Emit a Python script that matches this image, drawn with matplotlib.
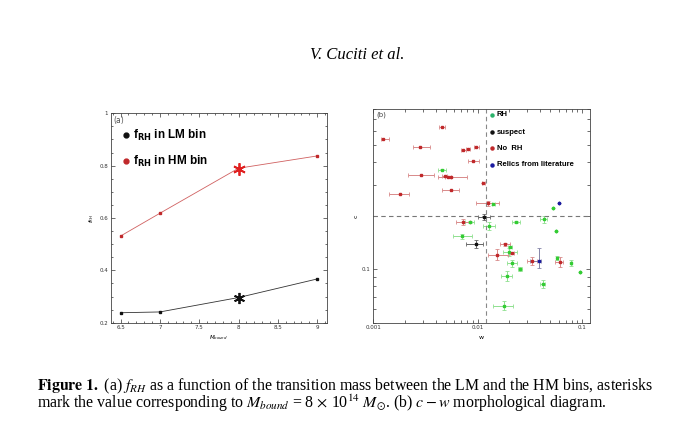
import numpy as np
import matplotlib
matplotlib.use("Agg")
import matplotlib.pyplot as plt
from matplotlib.ticker import AutoMinorLocator, FixedLocator, NullFormatter, LogLocator

# panel (a): f_RH vs transition mass
m_bound = [6.5, 7.0, 8.0, 9.0]
f_lm = [0.238, 0.241, 0.296, 0.367]
f_hm = [0.531, 0.618, 0.790, 0.837]
star_x = 8.0
star_lm = 0.295
star_hm = 0.787

# panel (b): c - w diagram (value, minus err, plus err)
rh_w = [0.00456, 0.01416, 0.0528, 0.0430, 0.00843, 0.0234, 0.01285, 0.0561, 0.00715, 0.0205,
        0.0202, 0.0578, 0.0216, 0.0794, 0.0256, 0.0970, 0.0190, 0.0421, 0.0180]
rh_c = [0.364, 0.233, 0.221, 0.191, 0.184, 0.184, 0.175, 0.165, 0.1535, 0.1337,
        0.1259, 0.1164, 0.108, 0.1086, 0.1004, 0.097, 0.0921, 0.0826, 0.0624]
rh_w_lo = [0.0004, 0.0005, 0, 0.003, 0.0009, 0.0021, 0.0015, 0, 0.0013, 0.0008,
           0.0025, 0.0012, 0.0024, 0.001, 0.0009, 0, 0.0022, 0.0025, 0.0038]
rh_w_hi = [0.00045, 0.0005, 0, 0.003, 0.0009, 0.0021, 0.0019, 0, 0.0017, 0.0008,
           0.0036, 0.0012, 0.0024, 0.001, 0.0009, 0, 0.0022, 0.0025, 0.0041]
rh_c_lo = [0.003, 0.003, 0, 0.008, 0.002, 0.002, 0.0095, 0, 0.0045, 0.002,
           0.0067, 0.003, 0.005, 0.004, 0.002, 0, 0.006, 0.004, 0.0038]
rh_c_hi = [0.003, 0.003, 0, 0.008, 0.002, 0.002, 0.0095, 0, 0.0045, 0.002,
           0.0067, 0.003, 0.005, 0.004, 0.002, 0, 0.006, 0.004, 0.0038]

no_w = [0.00456, 0.00125, 0.00278, 0.00728, 0.00813, 0.00977, 0.00908, 0.00284, 0.00484, 0.00521,
        0.00561, 0.0114, 0.00554, 0.00181, 0.01248, 0.00728, 0.01837, 0.01549, 0.0214, 0.0332, 0.0618]
no_c = [0.631, 0.541, 0.491, 0.467, 0.474, 0.487, 0.407, 0.341, 0.335, 0.333,
        0.333, 0.306, 0.279, 0.265, 0.235, 0.185, 0.138, 0.1205, 0.123, 0.111, 0.1105]
no_w_lo = [0.0003, 0.00006, 0.0004, 0.0004, 0.0004, 0.0005, 0.00095, 0.0007, 0.0003, 0.0003,
           0.0014, 0.0003, 0.00095, 0.00038, 0.0028, 0.001, 0.002, 0.0028, 0.001, 0.0035, 0.006]
no_w_hi = [0.00035, 0.00016, 0.0007, 0.0004, 0.0004, 0.0005, 0.0012, 0.001, 0.0003, 0.0003,
           0.0024, 0.0003, 0.0011, 0.00041, 0.0037, 0.0011, 0.002, 0.0043, 0.001, 0.0039, 0.005]
no_c_lo = [0, 0, 0, 0, 0, 0, 0, 0, 0, 0,
           0, 0, 0, 0, 0.008, 0.007, 0.003, 0.008, 0, 0.0055, 0.007]
no_c_hi = [0, 0, 0, 0, 0, 0, 0, 0, 0, 0,
           0, 0, 0, 0, 0.008, 0.006, 0.003, 0.009, 0, 0.0055, 0.007]

sus_w = [0.0116, 0.00964]
sus_c = [0.197, 0.139]
sus_w_lo = [0.0015, 0.0018]
sus_w_hi = [0.0016, 0.0017]
sus_c_lo = [0.0075, 0.0068]
sus_c_hi = [0.0075, 0.0068]

rel_w = [0.0610, 0.0385]
rel_c = [0.236, 0.1115]
rel_w_lo = [0, 0.0065]
rel_w_hi = [0, 0.0023]
rel_c_lo = [0, 0.0093]
rel_c_hi = [0, 0.021]

w_cut = 0.012
c_cut = 0.2

caption = (r"$\mathbf{Figure\ 1.}$ (a) $f_{RH}$ as a function of the transition mass between the LM and the HM bins, asterisks" "\n"
           r"mark the value corresponding to $M_{bound}$ = 8 $\times$ 10$^{14}$ $M_{\odot}$. (b) $c - w$ morphological diagram.")

fig = plt.figure(figsize=(6.95, 4.36), dpi=100)

tick_kw = dict(direction="in", top=True, right=True, labelsize=4, width=0.5, colors="#333333", pad=2)


def style_axes(ax):
    for s in ax.spines.values():
        s.set_linewidth(0.6)
        s.set_color("#444444")
    ax.tick_params(which="major", length=3, **tick_kw)
    ax.tick_params(which="minor", length=1.5, **tick_kw)


# ---- panel (a)
ax1 = fig.add_axes([0.1593, 0.2599, 0.3112, 0.4803])
ax1.plot(m_bound, f_hm, "-s", color="#d06060", mfc="#c0282a", mec="#c0282a", lw=0.6, ms=1.6)
ax1.plot(m_bound, f_lm, "-s", color="#333333", mfc="#111111", mec="#111111", lw=0.6, ms=1.6)
ax1.plot([star_x], [star_hm], marker=(6, 2, 0), color="#e02020", ms=9, mew=1.3)
ax1.plot([star_x], [star_lm], marker=(6, 2, 0), color="#111111", ms=8, mew=1.3)
ax1.set_xlim(6.375, 9.125)
ax1.set_ylim(0.2, 1.0)
ax1.set_xticks([6.5, 7, 7.5, 8, 8.5, 9])
ax1.set_xticklabels(["6.5", "7", "7.5", "8", "8.5", "9"])
ax1.set_yticks([0.2, 0.4, 0.6, 0.8, 1.0])
ax1.set_yticklabels(["0.2", "0.4", "0.6", "0.8", "1"])
ax1.xaxis.set_minor_locator(AutoMinorLocator(5))
ax1.yaxis.set_minor_locator(AutoMinorLocator(4))
style_axes(ax1)
ax1.set_xlabel(r"$M_{bound}$", fontsize=4, labelpad=2)
ax1.set_ylabel(r"$f_{RH}$", fontsize=4, labelpad=2.5)
ax1.text(0.012, 0.955, "(a)", transform=ax1.transAxes, fontsize=5.5, color="#555555")

leg_a = [("#111111", r"f$_{\mathbf{RH}}$ in LM bin", 0.896), ("#c0282a", r"f$_{\mathbf{RH}}$ in HM bin", 0.772)]
for col, lab, yy in leg_a:
    ax1.plot([0.0707], [yy], "o", color=col, ms=3.5, transform=ax1.transAxes)
    ax1.text(0.1017, yy, lab, transform=ax1.transAxes, fontsize=8.5, fontweight="bold",
             family="Liberation Sans", math_fontfamily="dejavusans", va="center")

# ---- panel (b)
ax2 = fig.add_axes([0.5371, 0.2599, 0.3118, 0.4901])
ax2.set_xscale("log")
ax2.set_yscale("log")
groups = [
    (rh_w, rh_c, rh_w_lo, rh_w_hi, rh_c_lo, rh_c_hi, "#33cc33", "#8fe08f"),
    (no_w, no_c, no_w_lo, no_w_hi, no_c_lo, no_c_hi, "#c0282a", "#d88a8a"),
    (sus_w, sus_c, sus_w_lo, sus_w_hi, sus_c_lo, sus_c_hi, "#111111", "#666666"),
    (rel_w, rel_c, rel_w_lo, rel_w_hi, rel_c_lo, rel_c_hi, "#1a1aa0", "#8585a8"),
]
for w, c, wlo, whi, clo, chi, col, ecol in groups:
    ax2.errorbar(w, c, xerr=[wlo, whi], yerr=[clo, chi], fmt="s", ms=2, color=col,
                 ecolor=ecol, elinewidth=0.7, capsize=1.2, capthick=0.6)
ax2.axhline(c_cut, color="#777777", ls=(0, (4, 3)), lw=0.8)
ax2.axvline(w_cut, color="#888888", ls=(0, (4, 3)), lw=0.8)
ax2.set_xlim(0.001, 0.12)
ax2.set_ylim(0.05, 0.8)
ax2.xaxis.set_major_locator(FixedLocator([0.001, 0.01, 0.1]))
ax2.set_xticklabels(["0.001", "0.01", "0.1"])
ax2.xaxis.set_minor_locator(LogLocator(subs=np.arange(2, 10)))
ax2.xaxis.set_minor_formatter(NullFormatter())
ax2.yaxis.set_major_locator(FixedLocator([0.1]))
ax2.set_yticklabels(["0.1"])
ax2.yaxis.set_minor_locator(LogLocator(subs=np.arange(2, 10)))
ax2.yaxis.set_minor_formatter(NullFormatter())
style_axes(ax2)
ax2.tick_params(which="minor", length=2.5)
ax2.set_xlabel("w", fontsize=4.5, labelpad=3)
ax2.set_ylabel("c", fontsize=4.5, labelpad=2)
ax2.text(0.012, 0.965, "(b)", transform=ax2.transAxes, fontsize=5, color="#444444")

leg_b = [("#2bb36b", "RH", 0.972), ("#111111", "suspect", 0.891),
         ("#c0282a", "No  RH", 0.816), ("#1a1aa0", "Relics from literature", 0.738)]
for col, lab, yy in leg_b:
    ax2.plot([0.549], [yy], "o", color=col, ms=2.2, transform=ax2.transAxes)
    ax2.text(0.569, yy, lab, transform=ax2.transAxes, fontsize=5.5, fontweight="bold",
             family="Liberation Sans", va="center")

# ---- page header and caption
fig.text(0.514, 0.874, "V. Cuciti et al.", ha="center", va="center", fontsize=12,
         family="Liberation Serif", style="italic")
fig.text(0.0528, 0.0642, caption, va="baseline", linespacing=0.8,
         fontsize=11.4, family="Liberation Serif", math_fontfamily="stix")

fig.savefig("out.png", dpi=100)
